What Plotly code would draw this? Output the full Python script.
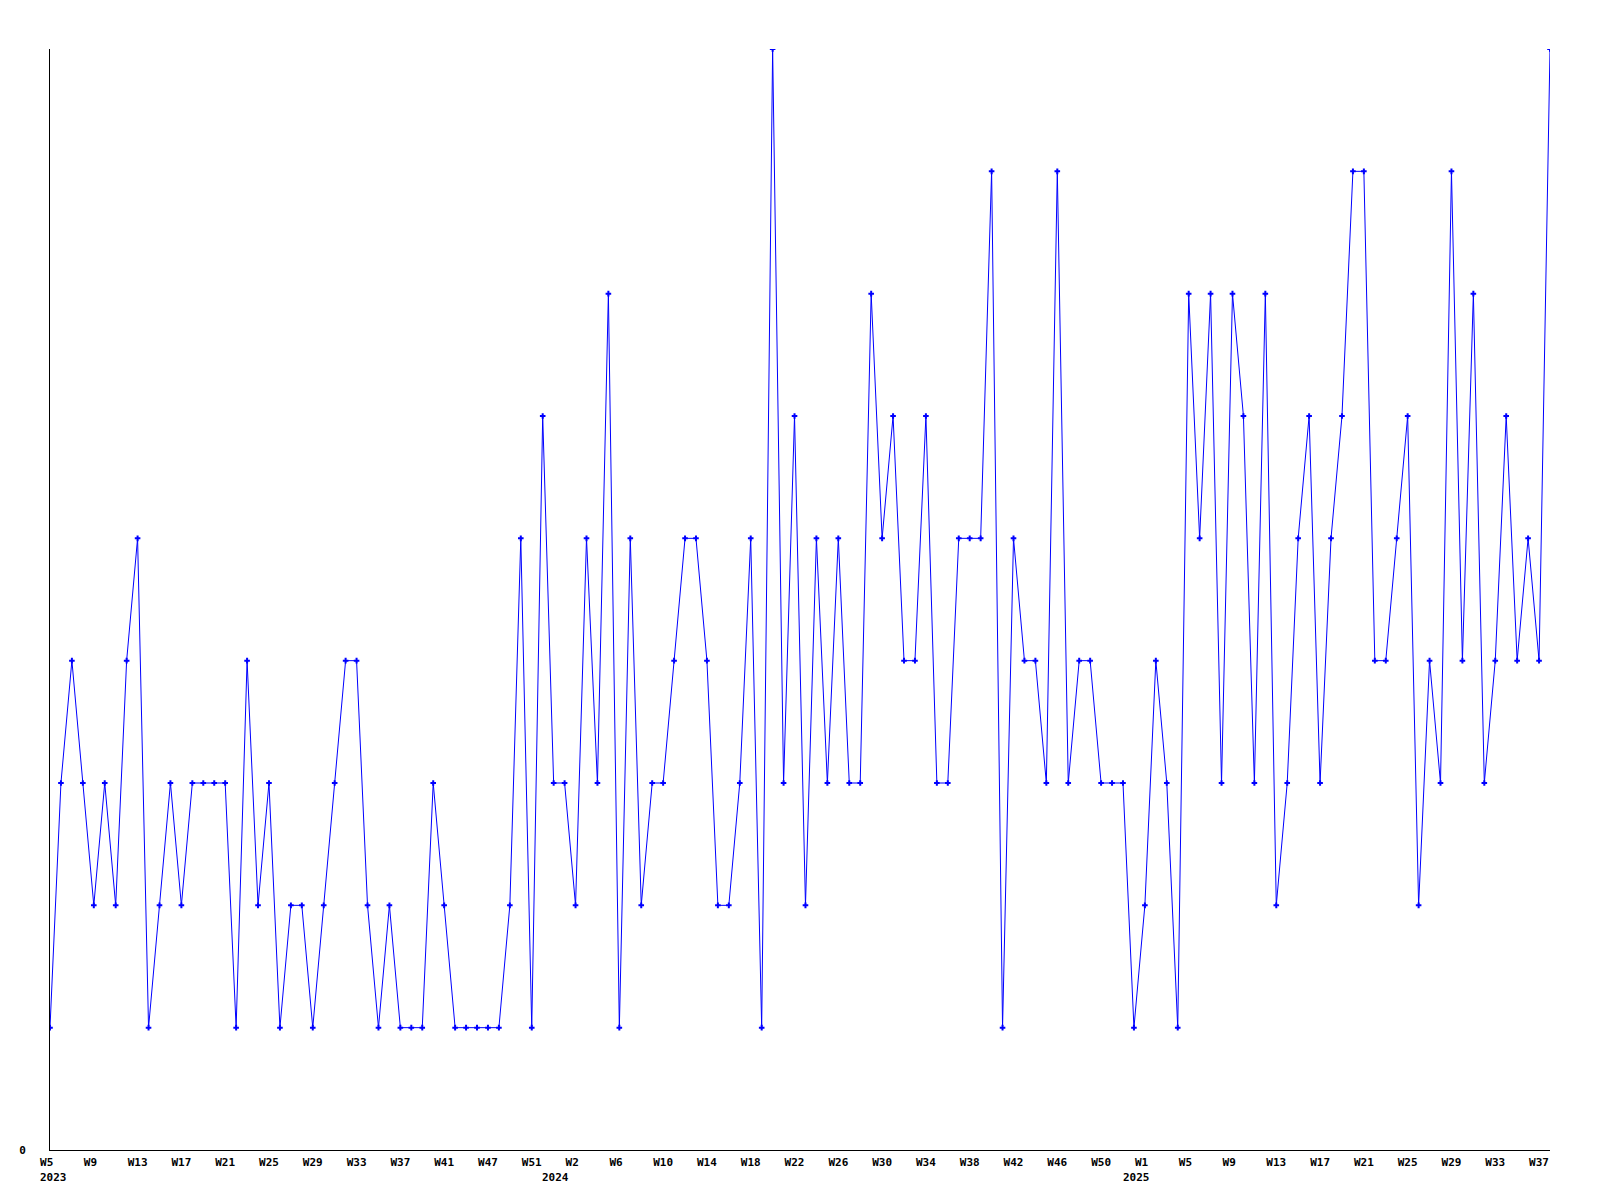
import plotly.graph_objects as go

values = [
    1, 3, 4, 3, 2, 3, 2, 4, 5, 1,
    2, 3, 2, 3, 3, 3, 3, 1, 4, 2,
    3, 1, 2, 2, 1, 2, 3, 4, 4, 2,
    1, 2, 1, 1, 1, 3, 2, 1, 1, 1,
    1, 1, 2, 5, 1, 6, 3, 3, 2, 5,
    3, 7, 1, 5, 2, 3, 3, 4, 5, 5,
    4, 2, 2, 3, 5, 1, 9, 3, 6, 2,
    5, 3, 5, 3, 3, 7, 5, 6, 4, 4,
    6, 3, 3, 5, 5, 5, 8, 1, 5, 4,
    4, 3, 8, 3, 4, 4, 3, 3, 3, 1,
    2, 4, 3, 1, 7, 5, 7, 3, 7, 6,
    3, 7, 2, 3, 5, 6, 3, 5, 6, 8,
    8, 4, 4, 5, 6, 2, 4, 3, 8, 4,
    7, 3, 4, 6, 4, 5, 4, 9,
]

tick_labels = [
    "W5", "W9", "W13", "W17", "W21", "W25", "W29", "W33", "W37", "W41", "W47", "W51",
    "W2", "W6", "W10", "W14", "W18", "W22", "W26", "W30", "W34", "W38", "W42", "W46", "W50",
    "W1", "W5", "W9", "W13", "W17", "W21", "W25", "W29", "W33", "W37",
]
tick_step = 4

year_labels = ["2023", "2024", "2025"]
year_positions = [0.3, 46.2, 99.2]

x = list(range(len(values)))
tick_positions = [i * tick_step for i in range(len(tick_labels))]
# pad short labels so they sit like the fixed-width original
tick_text = [t + "\u00a0" if len(t) == 2 else t for t in tick_labels]

tfont = dict(family="DejaVu Sans Mono", size=11, color="black", weight="bold")

fig = go.Figure()
fig.add_trace(go.Scatter(
    x=x, y=values, mode="lines+markers",
    line=dict(color="#0000ff", width=1),
    marker=dict(symbol="cross-thin", size=4, color="#0000ff",
                line=dict(color="#0000ff", width=2)),
    showlegend=False,
    hoverinfo="skip",
))

for label, pos in zip(year_labels, year_positions):
    fig.add_annotation(
        x=pos, xref="x", y=0, yref="paper",
        text=label, showarrow=False, font=tfont,
        xanchor="center", yanchor="middle", yshift=-27,
    )

fig.update_layout(
    width=1600, height=1200,
    margin=dict(l=42, r=58, t=41, b=58),
    paper_bgcolor="white", plot_bgcolor="white",
    font=tfont,
    xaxis=dict(
        range=[0, len(values) - 1],
        tickmode="array", tickvals=tick_positions, ticktext=tick_text,
        showgrid=False, zeroline=False, automargin=False,
        showline=True, linecolor="black", linewidth=1,
        ticks="", tickfont=tfont,
        ticklabelstandoff=2,
    ),
    yaxis=dict(
        range=[0, 9],
        tickmode="array", tickvals=[0], ticktext=["0"],
        showgrid=False, zeroline=False, automargin=False,
        showline=True, linecolor="black", linewidth=1,
        ticks="", tickfont=tfont,
        ticklabelstandoff=21,
    ),
)

fig.write_html("out.html")
